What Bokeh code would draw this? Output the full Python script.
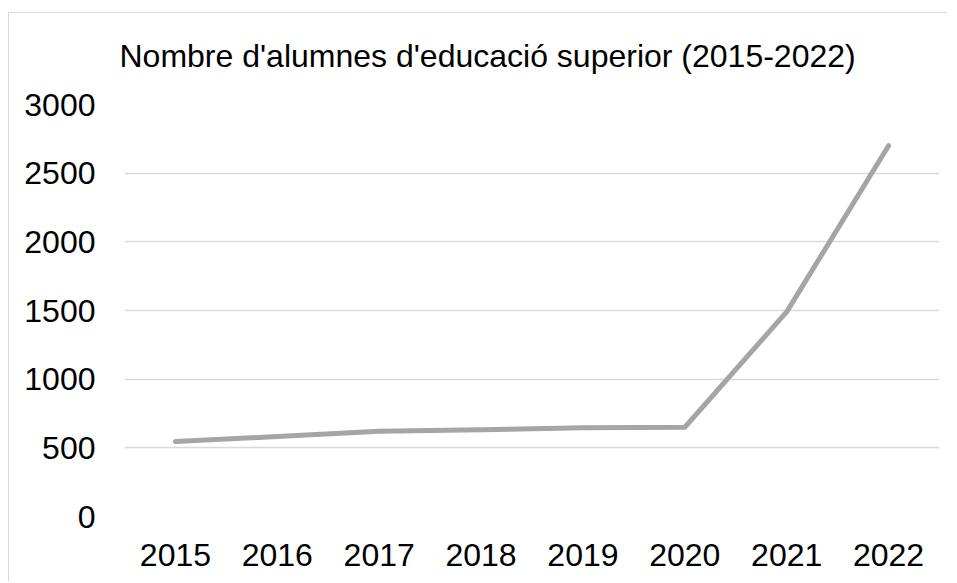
from bokeh.plotting import figure
from bokeh.embed import file_html
from bokeh.resources import INLINE
from bokeh.models import ColumnDataSource, FixedTicker, Range1d

years = ["2015", "2016", "2017", "2018", "2019", "2020", "2021", "2022"]
students = [546, 582, 621, 631, 646, 650, 1490, 2700]
y_ticks = [0, 500, 1000, 1500, 2000, 2500, 3000]
title_text = "Nombre d'alumnes d'educació superior (2015-2022)"

FONT = "Liberation Sans"

src = ColumnDataSource(dict(x=years, y=students))

p = figure(
    x_range=years,
    y_range=Range1d(0, 3000),
    width=939,
    height=577,
    output_backend="svg",
    toolbar_location=None,
    min_border_left=116,
    min_border_right=8,
    min_border_top=100,
    min_border_bottom=65,
)
p.margin = (4, 0, 0, 8)
p.border_fill_alpha = 0
p.background_fill_color = "white"
p.styles = {
    "background-image": "linear-gradient(#d9d9d9, #d9d9d9), linear-gradient(#d9d9d9, #d9d9d9)",
    "background-size": "100% 1px, 1px 100%",
    "background-position": "0 8px, 0 8px",
    "background-repeat": "no-repeat",
}

p.line("x", "y", source=src, line_color="#a5a5a5", line_width=5,
       line_cap="round", line_join="round")

p.title.text = title_text
p.title.text_font = FONT
p.title.text_font_size = "32px"
p.title.text_font_style = "normal"
p.title.text_color = "#000000"
p.title.align = "left"
p.title.offset = -5
p.title.standoff = 61

p.outline_line_color = None
p.xgrid.grid_line_color = None
p.ygrid.grid_line_color = "#d9d9d9"
p.ygrid.grid_line_width = 1.3

p.yaxis.ticker = FixedTicker(ticks=y_ticks)
for ax in (p.xaxis[0], p.yaxis[0]):
    ax.axis_line_color = None
    ax.major_tick_line_color = None
    ax.minor_tick_line_color = None
    ax.major_tick_in = 0
    ax.major_tick_out = 0
    ax.major_label_text_font = FONT
    ax.major_label_text_font_size = "32px"
    ax.major_label_text_color = "#000000"
p.xaxis.major_label_standoff = 27
p.yaxis.major_label_standoff = 29

open("out.html", "w").write(file_html(p, INLINE))
